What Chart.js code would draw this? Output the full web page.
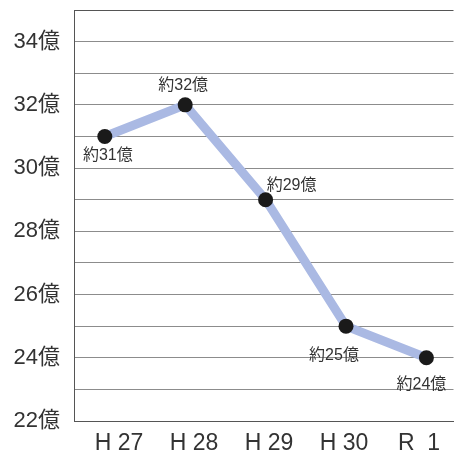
<!DOCTYPE html>
<html lang="ja">
<head>
<meta charset="utf-8">
<script src="https://cdn.jsdelivr.net/npm/chart.js@4/dist/chart.umd.min.js"></script>
<style>
  html, body { margin: 0; padding: 0; background: #fff; }
  #wrap { width: 461px; height: 454px; position: relative; }
</style>
</head>
<body>
<div id="wrap"><canvas id="grafico"></canvas></div>
<script>
const nendo = ['H 27', 'H 28', 'H 29', 'H 30', 'R  1'];
const valores = [31, 32, 29, 25, 24];
const rotulos = ['約31億', '約32億', '約29億', '約25億', '約24億'];
const yTicks = [22, 24, 26, 28, 30, 32, 34];

// deslocamento de cada rótulo em relação ao ponto (px)
const offsets = [[3, 19], [-2, -19], [26, -14], [-12, 29], [-5, 27]];

const fonte = '"Liberation Sans", "Noto Sans CJK JP", sans-serif';

const rotulosPlugin = {
  id: 'rotulos',
  afterDatasetsDraw(chart) {
    const { ctx } = chart;
    const meta = chart.getDatasetMeta(0);
    ctx.save();
    ctx.font = `16px ${fonte}`;
    ctx.fillStyle = '#333';
    ctx.textAlign = 'center';
    ctx.textBaseline = 'middle';
    meta.data.forEach((pt, i) => {
      const [dx, dy] = offsets[i];
      ctx.fillText(rotulos[i], pt.x + dx, pt.y + dy);
    });
    ctx.restore();
  }
};

const semPadding = s => { s.paddingTop = 0; s.paddingBottom = 0; s.paddingLeft = 0; s.paddingRight = 0; };

new Chart(document.getElementById('grafico'), {
  type: 'line',
  data: {
    datasets: [{
      data: valores.map((v, i) => ({ x: i, y: v })),
      xAxisID: 'xp',
      borderColor: '#aab9e3',
      borderWidth: 9,
      borderJoinStyle: 'round',
      tension: 0,
      pointRadius: 7.5,
      pointHoverRadius: 7.5,
      pointBackgroundColor: '#1a1a1a',
      pointBorderWidth: 0
    }]
  },
  options: {
    responsive: true,
    maintainAspectRatio: false,
    animation: false,
    layout: { padding: { top: 10, right: 0, left: 0, bottom: 0 } },
    plugins: { legend: { display: false }, tooltip: { enabled: false } },
    scales: {
      x: {
        type: 'linear',
        position: 'bottom',
        min: -0.6,
        max: 4.46,
        afterBuildTicks: s => { s.ticks = nendo.map((_, i) => ({ value: i })); },
        afterFit: s => { s.height = 33; semPadding(s); },
        grid: { display: false, drawTicks: false },
        border: { display: true, color: '#555', width: 1 },
        ticks: {
          padding: 9,
          color: '#333',
          font: { family: fonte, size: 23 },
          callback: v => nendo[v] ?? ''
        }
      },
      xp: {
        type: 'linear',
        display: false,
        min: -0.383,
        max: 4.337
      },
      y: {
        min: 22,
        max: 35,
        afterBuildTicks: s => {
          s.ticks = [];
          for (let v = 22; v <= 35; v++) s.ticks.push({ value: v });
        },
        afterFit: s => { s.width = 74; semPadding(s); },
        grid: {
          drawTicks: false,
          color: c => c.tick && c.tick.value === 35 ? '#555' : '#8c8c8c',
          lineWidth: 1
        },
        border: { display: true, color: '#555', width: 1 },
        ticks: {
          padding: 14,
          color: '#333',
          font: { family: fonte, size: 22 },
          callback: v => yTicks.includes(v) ? `${v}億` : ''
        }
      }
    }
  },
  plugins: [rotulosPlugin]
});
</script>
</body>
</html>
